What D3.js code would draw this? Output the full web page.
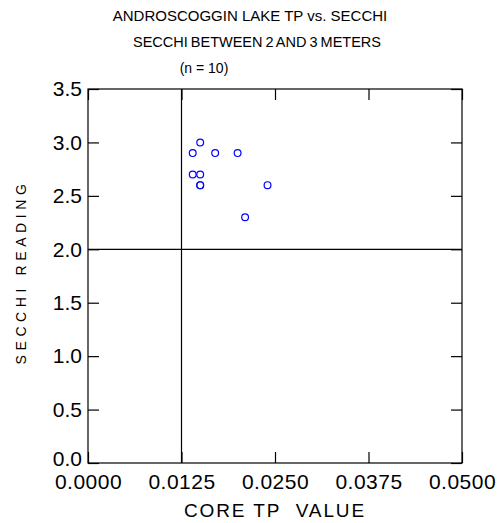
<!DOCTYPE html>
<html>
<head>
<meta charset="utf-8">
<script src="https://cdn.jsdelivr.net/npm/d3@7"></script>
<style>
  body { margin: 0; background: #fff; }
  text { font-family: "Liberation Sans", Arial, sans-serif; fill: #000; }
</style>
</head>
<body>
<div id="chart"></div>
<script>
var margin = {left: 88, top: 89, right: 40, bottom: 60},
    width = 502,
    height = 523,
    plotW = 374,
    plotH = 374;

// core TP vs secchi readings (n = 10)
var tpValues     = [0.015, 0.014, 0.017, 0.020, 0.014, 0.015, 0.015, 0.015, 0.024, 0.021];
var secchiValues = [3.0,   2.9,   2.9,   2.9,   2.7,   2.7,   2.6,   2.6,   2.6,   2.3];
var xTicks = [0, 0.0125, 0.025, 0.0375, 0.05];
var yTicks = [0, 0.5, 1.0, 1.5, 2.0, 2.5, 3.0, 3.5];
var refX = 0.0125, refY = 2.0;

var titles = ["ANDROSCOGGIN LAKE TP vs. SECCHI", "SECCHI BETWEEN 2 AND 3 METERS", "(n = 10)"];

var x = d3.scaleLinear().domain([0, 0.05]).range([0, plotW]);
var y = d3.scaleLinear().domain([0, 3.5]).range([plotH, 0]);

var svg = d3.select("#chart").append("svg")
    .attr("width", width)
    .attr("height", height);

// titles
svg.append("text").attr("x", 250).attr("y", 21).attr("text-anchor", "middle")
    .style("font-size", "15px").text(titles[0]);
svg.append("text").attr("x", 257).attr("y", 47).attr("text-anchor", "middle")
    .style("font-size", "14.5px").style("word-spacing", "-1px").text(titles[1]);
svg.append("text").attr("x", 204).attr("y", 73).attr("text-anchor", "middle")
    .style("font-size", "14px").text(titles[2]);

var g = svg.append("g")
    .attr("transform", "translate(" + margin.left + "," + margin.top + ")");

// frame
g.append("rect")
    .attr("width", plotW).attr("height", plotH)
    .attr("fill", "none").attr("stroke", "#000").attr("stroke-width", 1.2);

var fmtX = d3.format(".4f"), fmtY = d3.format(".1f");

var xAxis = g.append("g")
    .attr("transform", "translate(0," + plotH + ")")
    .call(d3.axisBottom(x).tickValues(xTicks).tickFormat(fmtX)
        .tickSizeInner(-11).tickSizeOuter(0).tickPadding(11));
g.append("g")
    .call(d3.axisTop(x).tickValues(xTicks).tickFormat("")
        .tickSizeInner(-11).tickSizeOuter(0));
var yAxis = g.append("g")
    .call(d3.axisLeft(y).tickValues(yTicks).tickFormat(fmtY)
        .tickSizeInner(-11).tickSizeOuter(0).tickPadding(6));
g.append("g")
    .attr("transform", "translate(" + plotW + ",0)")
    .call(d3.axisRight(y).tickValues(yTicks).tickFormat("")
        .tickSizeInner(-11).tickSizeOuter(0));

g.selectAll(".domain").remove();
g.selectAll(".tick line").attr("stroke", "#000").attr("stroke-width", 1.2);
g.selectAll(".tick text")
    .style("font-size", "21px")
    .style("font-family", "'Liberation Sans', Arial, sans-serif")
    .attr("fill", "#000");
xAxis.selectAll(".tick text").style("letter-spacing", "0.5px");
// lift the 0.0 label a touch so it clears the x labels
yAxis.selectAll(".tick text").filter(function(d) { return d === 0; }).attr("dy", "0.1em");

// reference lines
g.append("line")
    .attr("x1", x(refX)).attr("x2", x(refX))
    .attr("y1", 0).attr("y2", plotH)
    .attr("stroke", "#000").attr("stroke-width", 1.2);
g.append("line")
    .attr("x1", 0).attr("x2", plotW)
    .attr("y1", y(refY)).attr("y2", y(refY))
    .attr("stroke", "#000").attr("stroke-width", 1.2);

// points
g.selectAll("circle.pt")
    .data(tpValues)
    .enter().append("circle")
    .attr("class", "pt")
    .attr("cx", function(d) { return x(d); })
    .attr("cy", function(d, i) { return y(secchiValues[i]); })
    .attr("r", 3.4)
    .attr("fill", "none")
    .attr("stroke", "#0000ff")
    .attr("stroke-width", 1.2);

// axis labels
svg.append("text")
    .attr("x", 275).attr("y", 517)
    .attr("text-anchor", "middle")
    .style("font-size", "19px")
    .style("letter-spacing", "1.9px")
    .text("CORE TP\u00a0 VALUE");

svg.append("text")
    .attr("transform", "translate(26,272) rotate(-90)")
    .attr("text-anchor", "middle")
    .style("font-size", "14px")
    .style("letter-spacing", "4.6px")
    .text("SECCHI READING");
</script>
</body>
</html>
